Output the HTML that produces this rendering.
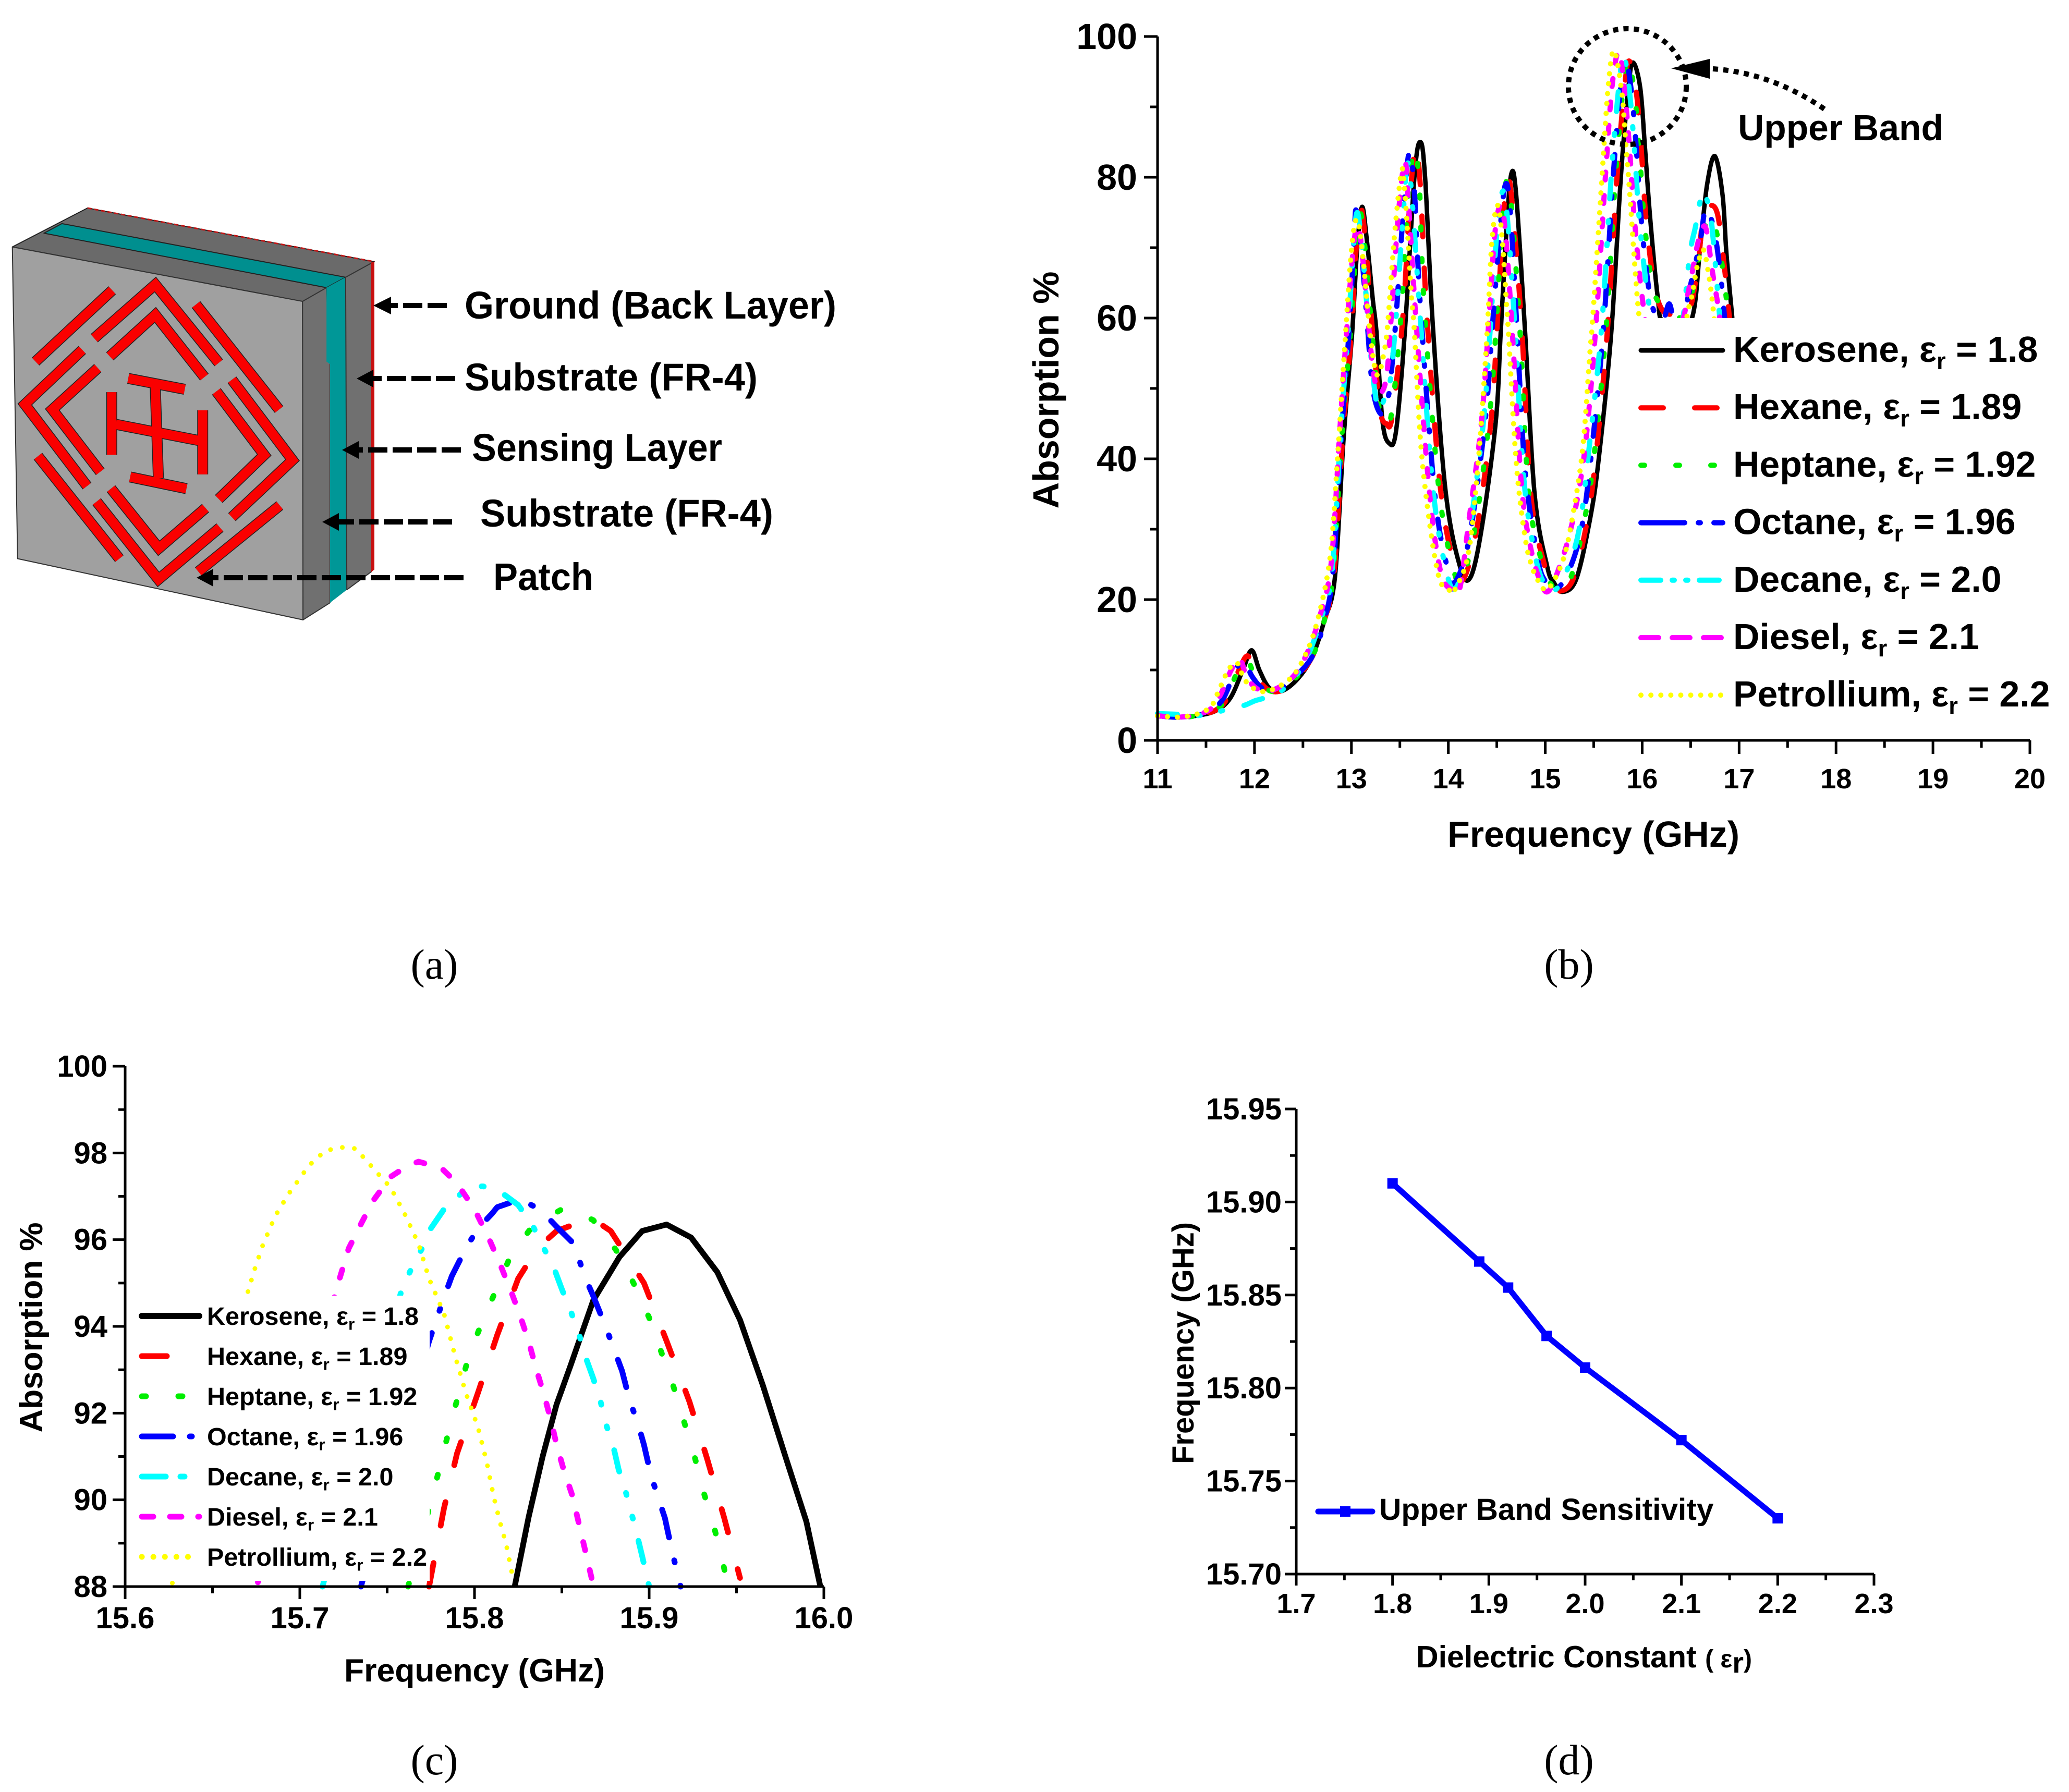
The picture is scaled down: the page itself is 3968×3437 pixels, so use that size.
<!DOCTYPE html>
<html lang="en">
<head>
<meta charset="utf-8">
<title>Absorber sensor figure</title>
<style>
html,body{margin:0;padding:0;background:#fff}
svg{display:block}
text{font-family:"Liberation Sans",Arial,sans-serif;font-weight:bold;fill:#000}
.cap{font-family:"Liberation Serif",serif;font-weight:normal;font-size:82px}
</style>
</head>
<body>
<svg id="fig" xmlns="http://www.w3.org/2000/svg" width="3968" height="3437" viewBox="0 0 3968 3437">
<rect width="3968" height="3437" fill="#fff"/>

<g id="panel-a">
  <g transform="translate(20,400) scale(0.4592,0.4974)" stroke-linejoin="round">
    <polygon points="8,148 322,-2 1520,205 1220,358" fill="#6a6a6a" stroke="#222" stroke-width="2" vector-effect="non-scaling-stroke"/>
    <polygon points="140,95 215,58 1400,265 1320,305" fill="#008f8f" stroke="#222" stroke-width="2" vector-effect="non-scaling-stroke"/>
    <polygon points="8,148 1220,358 1222,1586 30,1350" fill="#a0a0a0" stroke="#333" stroke-width="2" vector-effect="non-scaling-stroke"/>
    <polygon points="1220,358 1320,305 1335,600 1335,1520 1222,1586" fill="#707070" stroke="#333" stroke-width="2" vector-effect="non-scaling-stroke"/>
    <polygon points="1320,305 1400,265 1405,1470 1335,1520 1335,600 1320,590" fill="#009797"/>
    <polygon points="1400,265 1508,210 1508,1400 1405,1470" fill="#707070" stroke="#333" stroke-width="2" vector-effect="non-scaling-stroke"/>
    <polygon points="1506,208 1520,205 1520,1392 1506,1402" fill="#c81010"/>
    <line x1="322" y1="-2" x2="1520" y2="205" stroke="#c01818" stroke-width="3" stroke-dasharray="8 5" vector-effect="non-scaling-stroke"/>
    <defs>
      <g id="patch-shapes" fill="none" stroke-linejoin="miter" stroke-miterlimit="6">
        <polyline vector-effect="non-scaling-stroke" points="350,500 605,293 870,595"/>
        <polyline vector-effect="non-scaling-stroke" points="415,570 605,410 810,650"/>
        <polyline vector-effect="non-scaling-stroke" points="300,545 60,755 320,1070"/>
        <polyline vector-effect="non-scaling-stroke" points="365,615 175,775 375,1015"/>
        <polyline vector-effect="non-scaling-stroke" points="925,660 1178,970 925,1190"/>
        <polyline vector-effect="non-scaling-stroke" points="860,705 1060,950 870,1120"/>
        <polyline vector-effect="non-scaling-stroke" points="360,1130 618,1430 875,1230"/>
        <polyline vector-effect="non-scaling-stroke" points="420,1080 620,1310 815,1155"/>
        <line vector-effect="non-scaling-stroke" x1="105" y1="590" x2="425" y2="315"/>
        <line vector-effect="non-scaling-stroke" x1="775" y1="370" x2="1122" y2="775"/>
        <line vector-effect="non-scaling-stroke" x1="115" y1="955" x2="455" y2="1350"/>
        <line vector-effect="non-scaling-stroke" x1="1125" y1="1145" x2="785" y2="1400"/>
        <line vector-effect="non-scaling-stroke" x1="492" y1="655" x2="728" y2="697"/>
        <line vector-effect="non-scaling-stroke" x1="605" y1="690" x2="618" y2="1040"/>
        <line vector-effect="non-scaling-stroke" x1="423" y1="708" x2="423" y2="950"/>
        <line vector-effect="non-scaling-stroke" x1="803" y1="778" x2="803" y2="1025"/>
        <line vector-effect="non-scaling-stroke" x1="440" y1="832" x2="790" y2="895"/>
        <line vector-effect="non-scaling-stroke" x1="500" y1="1035" x2="735" y2="1080"/>
      </g>
    </defs>
    <use href="#patch-shapes" stroke="#222" stroke-width="21"/>
    <use href="#patch-shapes" stroke="#fa0000" stroke-width="18"/>
  </g>
  <g stroke="#000" stroke-width="10" stroke-dasharray="37 10" fill="#000">
    <line x1="857" y1="586" x2="750" y2="586"/>
    <polygon stroke="none" points="716,586 750,569 750,603"/>
    <line x1="873" y1="726" x2="716" y2="726"/>
    <polygon stroke="none" points="684,726 716,709 716,743"/>
    <line x1="884" y1="863" x2="688" y2="863"/>
    <polygon stroke="none" points="656,863 688,846 688,880"/>
    <line x1="867" y1="1001" x2="650" y2="1001"/>
    <polygon stroke="none" points="618,1001 650,984 650,1018"/>
    <line x1="889" y1="1108" x2="409" y2="1108"/>
    <polygon stroke="none" points="377,1108 409,1091 409,1125"/>
  </g>
  <text x="891" y="611" font-size="74" textLength="713" lengthAdjust="spacingAndGlyphs">Ground (Back Layer)</text>
  <text x="891" y="749" font-size="74" textLength="562" lengthAdjust="spacingAndGlyphs">Substrate (FR-4)</text>
  <text x="905" y="884" font-size="74" textLength="480" lengthAdjust="spacingAndGlyphs">Sensing Layer</text>
  <text x="921" y="1010" font-size="74" textLength="562" lengthAdjust="spacingAndGlyphs">Substrate (FR-4)</text>
  <text x="946" y="1132" font-size="74" textLength="192" lengthAdjust="spacingAndGlyphs">Patch</text>
</g>

<g id="panel-b"></g>
<g id="panel-c"></g>
<g id="panel-d"></g>

<text class="cap" x="833" y="1877" text-anchor="middle">(a)</text>
<text class="cap" x="3009" y="1877" text-anchor="middle">(b)</text>
<text class="cap" x="833" y="3403" text-anchor="middle">(c)</text>
<text class="cap" x="3009" y="3403" text-anchor="middle">(d)</text>
</svg>

<script>
// ---------- shared series identity ----------
const seriesKeys = ['kerosene','hexane','heptane','octane','decane','diesel','petrollium'];
const seriesNames = ['Kerosene','Hexane','Heptane','Octane','Decane','Diesel','Petrollium'];
const seriesEps = ['1.8','1.89','1.92','1.96','2.0','2.1','2.2'];
const seriesColors = ['#000000','#ff0000','#00ee00','#0000ff','#00ffff','#ff00ff','#ffff00'];

// ---------- panel (b) data: frequency (GHz) and absorption (%) ----------
const bXTicks = [11,12,13,14,15,16,17,18,19,20];
const bXMinor = [11.5,12.5,13.5,14.5,15.5,16.5,17.5,18.5,19.5];
const bYTicks = [0,20,40,60,80,100];
const bYMinor = [10,30,50,70,90];
const keroseneFreq = [11,11.2,11.4,11.6,11.75,11.88,11.97,12.05,12.15,12.28,12.45,12.6,12.72,12.83,12.92,13.007,13.06,13.11,13.16,13.22,13.26,13.32,13.39,13.46,13.55,13.65,13.71,13.76,13.84,13.97,14.12,14.23,14.35,14.49,14.54,14.6,14.65,14.7,14.79,14.89,15.02,15.09,15.18,15.32,15.46,15.55,15.68,15.78,15.86,15.906,15.98,16.03,16.08,16.16,16.22,16.5,16.6,16.67,16.75,16.83,16.87,16.93];
const keroseneAbs = [3.6,3.3,3.5,4.2,6,10,12.8,10,7.5,7,8.8,12,17,23.2,43,57.8,70,75.8,71,62.7,57.8,45.4,42.2,43.9,57.8,80,85,80,59,35.6,24.7,23.2,30.6,45.4,57.8,72.6,80.5,77.5,58.5,35,24.7,22.4,21.1,22.9,31.3,39.8,57.8,80,93,96.3,92.7,84,74.6,63,59.5,59.5,70.4,79,83,77.4,69,60];
const hexaneFreq = [11,11.2,11.4,11.6,11.72,11.84,11.93,12.01,12.12,12.26,12.43,12.6,12.72,12.82,12.91,13,13.05,13.1,13.15,13.2,13.25,13.3,13.36,13.42,13.53,13.6,13.66,13.71,13.78,13.92,14.06,14.16,14.3,14.44,14.5,14.56,14.61,14.66,14.76,14.85,14.99,15.07,15.15,15.29,15.43,15.52,15.64,15.74,15.82,15.868,15.94,15.99,16.04,16.12,16.2,16.3,16.47,16.57,16.63,16.7,16.78,16.85,16.9];
const hexaneAbs = [3.5,3.3,3.5,4.3,6,10,12,9.5,7.4,7,8.8,12,17,23.5,43,58,70,75.5,70,61,53,46.5,45,46,60,76,84.3,79,60,35.6,25,23,30.6,45.4,58,73,79.8,76,58,35,25,22.4,21.2,23,31,40,58,80,93,96.5,92,84,74,65,61.3,60.5,60.5,67,74.6,76,74.6,67,60];
const heptaneFreq = [11,11.2,11.4,11.6,11.71,11.83,11.92,12,12.11,12.25,12.42,12.6,12.72,12.81,12.9,12.99,13.05,13.09,13.14,13.2,13.25,13.3,13.36,13.42,13.51,13.58,13.645,13.7,13.75,13.9,14.05,14.14,14.28,14.42,14.49,14.55,14.6,14.65,14.74,14.83,14.97,15.05,15.13,15.26,15.4,15.5,15.625,15.725,15.805,15.854,15.92,15.97,16.02,16.1,16.18,16.3,16.45,16.55,16.63,16.7,16.77,16.84,16.89];
const heptaneAbs = [3.5,3.3,3.5,4.4,6,10,11.5,9.3,7.4,7,8.8,12,17,23.5,43,58,70,75,70,60,52,46,45,47,60,76,84,79,62,36,24.5,22.8,30.6,45.4,58,73,79.5,76,58,35,25,22.4,21.3,23,31,40,58,80,93,96.8,92,84,74,65,62,60.5,60.5,66,72,74.5,72,66,60];
const octaneFreq = [11,11.2,11.4,11.55,11.68,11.8,11.89,11.97,12.08,12.22,12.4,12.6,12.72,12.81,12.9,12.98,13.03,13.05,13.1,13.16,13.22,13.31,13.38,13.41,13.46,13.54,13.6,13.65,13.71,13.86,14,14.08,14.22,14.38,14.45,14.53,14.59,14.64,14.71,14.79,14.92,15,15.1,15.24,15.37,15.47,15.6,15.7,15.78,15.828,15.89,15.94,15.99,16.07,16.15,16.22,16.28,16.34,16.42,16.52,16.6,16.65,16.7,16.75,16.81,16.85];
const octaneAbs = [3.5,3.3,3.5,4.2,6,9.8,11.5,9.2,7.4,7,8.8,12,17,24,44,59,72,75.3,70,60,50,46.3,48.8,52,60,76,83.7,78,62,35,24,22.7,29,45.4,58,72,79,75,58,38.7,26,22.6,21.3,24,29.8,40,58.5,80,93,96.95,92,84,74,64,60,59.8,62,59,60,66,71,75.5,74.5,72,66,60];
const decaneFreq = [11,11.2,11.4,11.6,11.75,11.9,12,12.1,12.2,12.32,12.42,12.55,12.68,12.8,12.89,12.97,13.02,13.06,13.11,13.17,13.22,13.28,13.35,13.4,13.46,13.53,13.58,13.63,13.71,13.84,13.98,14.08,14.2,14.36,14.43,14.5,14.56,14.61,14.69,14.78,14.9,15,15.09,15.22,15.35,15.44,15.58,15.68,15.76,15.811,15.87,15.92,15.97,16.05,16.13,16.35,16.42,16.49,16.55,16.62,16.67,16.72,16.8];
const decaneAbs = [3.8,3.7,3.5,4,4.5,5,5.6,6,6.5,7.5,9,12,17,24,44,59,70,75,70,60,52,47,49,51,60,74,82,76,60,36,24,21.7,28,45,58,72,78,74,58,37,26,22,21.2,24,30,40,58.5,80,93,97.25,92,84,74,64,59,59,60,69,73,77.8,76.7,73,60];
const dieselFreq = [11,11.2,11.4,11.55,11.65,11.76,11.85,11.92,12.02,12.16,12.38,12.53,12.66,12.79,12.88,12.95,13.02,13.07,13.12,13.17,13.23,13.29,13.36,13.41,13.48,13.55,13.59,13.67,13.8,13.92,14.05,14.12,14.21,14.34,14.42,14.48,14.54,14.59,14.66,14.75,14.84,14.95,15.04,15.18,15.28,15.36,15.43,15.52,15.62,15.69,15.76,15.82,15.87,15.92,16,16.07,16.38,16.48,16.57,16.63,16.67,16.72,16.78,16.81];
const dieselAbs = [3.5,3.3,3.6,4.5,6.5,10,11.5,9,7.4,7,8.8,12,17,25,44,58,70,73,68,60,52,49.4,51.5,60,74,82.2,76,59,36,24,21.3,21.7,31,45,60,72,76,72,58,37,28,22.5,21.3,26,31,36.6,44,58.5,80,93,97.8,92,84,74,63,59,59,64,70.4,73,72,67,62,59];
const petrolliumFreq = [11,11.2,11.4,11.55,11.63,11.73,11.82,11.89,11.99,12.14,12.37,12.52,12.65,12.78,12.85,12.92,13,13.06,13.12,13.18,13.24,13.28,13.32,13.37,13.45,13.52,13.55,13.58,13.62,13.65,13.73,13.89,14.03,14.07,14.21,14.32,14.4,14.45,14.51,14.56,14.6,14.62,14.7,14.79,14.86,14.94,15.03,15.19,15.3,15.39,15.46,15.49,15.58,15.65,15.71,15.79,15.83,15.87,15.97,16.05,16.4,16.49,16.53,16.57,16.63,16.68,16.72,16.75];
const petrolliumAbs = [3.5,3.3,3.7,4.8,7,10,11,8.8,7.4,7,8.8,12,17,26,38.7,53.6,69.6,74,68.4,59.5,53,52,54,58.5,72.6,81,78,72,63,58,39.8,23.9,21.2,21.5,26.8,41.5,58,71,76,70.4,62,58,39.5,29,24.8,22.4,21.5,25.9,33.2,42,55,60,79,93,98,92,85,78,60,59,59,62,64.5,67.5,69.7,66.7,62.8,58.8];

// ---------- panel (c) data ----------
const cXTicks = ['15.6','15.7','15.8','15.9','16.0'];
const cXMinor = [15.65,15.75,15.85,15.95];
const cYTicks = [88,90,92,94,96,98,100];
const cYMinor = [89,91,93,95,97,99];
const zoomKeroseneFreq = [15.823,15.831,15.839,15.847,15.855,15.868,15.883,15.896,15.91,15.924,15.939,15.952,15.965,15.978,15.99,15.998];
const zoomKeroseneAbs = [88,89.6,91,92.2,93.1,94.6,95.6,96.2,96.35,96.05,95.25,94.15,92.65,91,89.5,88];
const zoomHexaneFreq = [15.774,15.7825,15.79,15.802,15.813,15.825,15.836,15.847,15.867,15.878,15.897,15.91,15.923,15.933,15.943,15.952];
const zoomHexaneAbs = [88,89.8,91.07,92.47,93.8,95.1,95.8,96.2,96.5,96.2,95,93.66,92.27,90.97,89.58,88.2];
const zoomHeptaneFreq = [15.762,15.776,15.786,15.797,15.805,15.813,15.821,15.833,15.852,15.868,15.881,15.891,15.9,15.907,15.914,15.92,15.926,15.931,15.937,15.942,15.945];
const zoomHeptaneAbs = [88,90.1,91.7,93.36,94.16,94.9,95.66,96.3,96.75,96.45,95.76,95,94.2,93.4,92.6,91.8,91,90.2,89.4,88.6,88];
const zoomOctaneFreq = [15.735,15.774,15.7825,15.787,15.795,15.802,15.81,15.813,15.826,15.8375,15.847,15.857,15.863,15.868,15.875,15.88,15.8845,15.889,15.8935,15.897,15.901,15.905,15.909,15.913,15.916,15.918];
const zoomOctaneAbs = [88,93.66,94.66,95.16,95.8,96.26,96.6,96.75,96.93,96.7,96.3,95.9,95.16,94.7,94,93.46,92.97,92.27,91.77,91.27,90.57,90.07,89.58,88.83,88.33,88];
const zoomDecaneFreq = [15.713,15.758,15.763,15.77,15.774,15.7825,15.792,15.799,15.805,15.815,15.825,15.833,15.839,15.845,15.85,15.855,15.86,15.863,15.868,15.872,15.875,15.879,15.8825,15.886,15.89,15.893,15.896,15.9];
const zoomDecaneAbs = [88,94.8,95.26,95.8,96.2,96.7,97.05,97.23,97.23,97.1,96.8,96.35,95.85,95.4,94.86,94.36,93.8,93.36,92.8,92.3,91.77,91.32,90.7,90.27,89.67,89.2,88.7,88];
const zoomDieselFreq = [15.676,15.722,15.728,15.7355,15.742,15.752,15.7615,15.768,15.781,15.79,15.8,15.808,15.8145,15.821,15.826,15.831,15.835,15.84,15.844,15.847,15.851,15.856,15.8595,15.863,15.867];
const zoomDieselAbs = [88.1,95,95.8,96.4,96.9,97.45,97.7,97.8,97.65,97.3,96.7,96.05,95.45,94.8,94.26,93.66,93.06,92.4,91.8,91.27,90.7,90.1,89.5,88.9,88.2];
const zoomPetrolliumFreq = [15.627,15.67,15.674,15.679,15.686,15.6935,15.705,15.7145,15.7235,15.732,15.743,15.752,15.76,15.768,15.774,15.7825,15.789,15.795,15.802,15.807,15.811,15.8145,15.818,15.822];
const zoomPetrolliumAbs = [88.08,94.76,95.3,95.9,96.55,97.05,97.7,98.05,98.13,98.1,97.6,97.2,96.6,95.9,95.1,94.3,93.3,92.47,91.67,90.87,90.07,89.5,89,88.2];

// ---------- panel (d) data ----------
const dXTicks = ['1.7','1.8','1.9','2.0','2.1','2.2','2.3'];
const dXMinor = [1.75,1.85,1.95,2.05,2.15,2.25];
const dYTicks = ['15.70','15.75','15.80','15.85','15.90','15.95'];
const dYMinor = [15.725,15.775,15.825,15.875,15.925];
const dielectricConstants = [1.8,1.89,1.92,1.96,2.0,2.1,2.2];
const upperBandFreq = [15.91,15.868,15.854,15.828,15.811,15.772,15.73];

// ---------- axis functions ----------
const bX = f => 2220 + (f - 11) * (3893 - 2220) / 9;
const bY = a => 1420 - a * (1420 - 70) / 100;
const cX = f => 240 + (f - 15.6) * (1580 - 240) / 0.4;
const cY = a => 3043 - (a - 88) * (3043 - 2045) / 12;
const dX = e => 2486 + (e - 1.7) * (3594 - 2486) / 0.6;
const dY = f => 3019 - (f - 15.7) * (3019 - 2127) / 0.25;

const NS = 'http://www.w3.org/2000/svg';
function mk(parent, tag, attrs) {
  const el = document.createElementNS(NS, tag);
  for (const k in attrs) el.setAttribute(k, attrs[k]);
  parent.appendChild(el);
  return el;
}
function smoothPath(xs, ys) {
  let d = 'M' + xs[0].toFixed(1) + ' ' + ys[0].toFixed(1);
  for (let i = 0; i < xs.length - 1; i++) {
    const i0 = Math.max(0, i - 1), i3 = Math.min(xs.length - 1, i + 2);
    const c1x = xs[i] + (xs[i + 1] - xs[i0]) / 6, c1y = ys[i] + (ys[i + 1] - ys[i0]) / 6;
    const c2x = xs[i + 1] - (xs[i3] - xs[i]) / 6, c2y = ys[i + 1] - (ys[i3] - ys[i]) / 6;
    d += 'C' + c1x.toFixed(1) + ' ' + c1y.toFixed(1) + ' ' + c2x.toFixed(1) + ' ' + c2y.toFixed(1) + ' ' + xs[i + 1].toFixed(1) + ' ' + ys[i + 1].toFixed(1);
  }
  return d;
}
function linePath(xs, ys) {
  return xs.map((x, i) => (i ? 'L' : 'M') + x.toFixed(1) + ' ' + ys[i].toFixed(1)).join('');
}
function tick(g, x1, y1, x2, y2, w) {
  const t = mk(g, 'line', {x1, y1, x2, y2, stroke: '#000', 'stroke-width': w});
  
  
}
function label(g, str, x, y, size, anchor) {
  const t = mk(g, 'text', {x, y, 'font-size': size, 'text-anchor': anchor});
  t.textContent = str;
  
  
}
function drawAxes(g, p) {
  const ax = mk(g, 'g', {});
  
  
  const x0 = p.x(p.xMin), x1 = p.x(p.xMax), y0 = p.y(p.yMin), y1 = p.y(p.yMax);
  const yl = mk(ax, 'line', {x1: x0, y1: y0 + p.w / 2, x2: x0, y2: y1, stroke: '#000', 'stroke-width': p.w});
  
  
  const xl = mk(ax, 'line', {x1: x0, y1: y0, x2: x1, y2: y0, stroke: '#000', 'stroke-width': p.w});
  
  
  p.xTicks.forEach(v => {
    const X = p.x(Number(v));
    tick(ax, X, y0, X, y0 + p.major, p.w);
    label(ax, String(v), X, p.xLabelY, p.xFont, 'middle');
  });
  p.xMinor.forEach(v => tick(ax, p.x(v), y0, p.x(v), y0 + p.minor, p.w));
  p.yTicks.forEach(v => {
    const Y = p.y(Number(v));
    tick(ax, x0, Y, x0 - p.major, Y, p.w);
    label(ax, String(v), p.yLabelX, Y + p.yLabelDy, p.yFont, 'end');
  });
  p.yMinor.forEach(v => tick(ax, x0, p.y(v), x0 - p.minor, p.y(v), p.w));
}
function title(g, name, str, x, y, size, rotated) {
  const t = mk(g, 'text', {x, y, 'font-size': size, 'text-anchor': 'middle'});
  if (rotated) t.setAttribute('transform', 'rotate(-90 ' + x + ' ' + y + ')');
  t.textContent = str;
  
  
}
function legendRow(g, name, eps, color, dash, width, lx0, lx1, tx, y, baseOff, size) {
  const row = mk(g, 'g', {});
  
  
  const l = mk(row, 'line', {x1: lx0, y1: y, x2: lx1, y2: y, stroke: color, 'stroke-width': width, 'stroke-linecap': 'round'});
  if (dash) l.setAttribute('stroke-dasharray', dash);
  const t = mk(row, 'text', {x: tx, y: y + baseOff, 'font-size': size});
  t.appendChild(document.createTextNode(name + ', \u03B5'));
  const sub = mk(t, 'tspan', {dy: size * 0.2, 'font-size': size * 0.65});
  sub.textContent = 'r';
  const rest = mk(t, 'tspan', {dy: -size * 0.2});
  rest.textContent = ' = ' + eps;
}

// ---------- panel (b) ----------
const gB = document.getElementById('panel-b');
const bFreq = [keroseneFreq, hexaneFreq, heptaneFreq, octaneFreq, decaneFreq, dieselFreq, petrolliumFreq];
const bAbs = [keroseneAbs, hexaneAbs, heptaneAbs, octaneAbs, decaneAbs, dieselAbs, petrolliumAbs];
const bDash = ['', '40 60', '6 55', '38 42 4 42', '38 40 4 40 4 42', '15 30', '0.1 19'];
bFreq.forEach((fr, i) => {
  const d = smoothPath(fr.map(bX), bAbs[i].map(bY));
  const p = mk(gB, 'path', {d, fill: 'none', stroke: seriesColors[i], 'stroke-width': i === 0 ? 8.5 : 10, 'stroke-linecap': i === 0 ? 'butt' : 'round', 'stroke-linejoin': 'round'});
  if (bDash[i]) p.setAttribute('stroke-dasharray', bDash[i]);
  
  
});
const bMask = mk(gB, 'rect', {x: 3130, y: bY(60), width: 838, height: 1400 - bY(60), fill: '#fff'});


drawAxes(gB, {x: bX, y: bY, xMin: 11, xMax: 20, yMin: 0, yMax: 100, w: 5, major: 26, minor: 14,
  xTicks: bXTicks, xMinor: bXMinor, yTicks: bYTicks, yMinor: bYMinor,
  xLabelY: 1512, xFont: 54, yLabelX: 2181, yLabelDy: 24, yFont: 70});
title(gB, 'y-axis-title', 'Absorption %', 2030, 748, 70, true);
title(gB, 'x-axis-title', 'Frequency (GHz)', 3056, 1624, 70, false);
const bLegend = mk(gB, 'g', {});


const bLegendDash = ['', '43 60', '7 60', '84 26 4 26', '38 22 4 22 4 22', '34 26', '0.1 19'];
seriesNames.forEach((n, i) => {
  legendRow(bLegend, n, seriesEps[i], seriesColors[i], bLegendDash[i], i === 0 ? 9 : 10, 3147, 3304, 3324, 672 + i * 110.2, 22, 69.8);
});
const ann = mk(gB, 'g', {});


const circ = mk(ann, 'ellipse', {cx: 3121, cy: 166, rx: 113, ry: 111, fill: 'none', stroke: '#000', 'stroke-width': 10, 'stroke-dasharray': '10 10'});


const aCurve = mk(ann, 'path', {d: 'M3285 132Q3400 140 3503 212', fill: 'none', stroke: '#000', 'stroke-width': 10, 'stroke-dasharray': '10 10'});


const aHead = mk(ann, 'polygon', {points: '3205,131 3279,113 3279,151', fill: '#000'});


title(ann, 'upper-band-label', 'Upper Band', 3530, 269, 69.5, false);

// ---------- panel (c) ----------
const gC = document.getElementById('panel-c');
const cFreq = [zoomKeroseneFreq, zoomHexaneFreq, zoomHeptaneFreq, zoomOctaneFreq, zoomDecaneFreq, zoomDieselFreq, zoomPetrolliumFreq];
const cAbs = [zoomKeroseneAbs, zoomHexaneAbs, zoomHeptaneAbs, zoomOctaneAbs, zoomDecaneAbs, zoomDieselAbs, zoomPetrolliumAbs];
const cDash = ['', '46 73', '6 66', '55 45 4 46', '42 43 4 43 4 44', '16 39', '0.1 23'];
cFreq.forEach((fr, i) => {
  const d = linePath(fr.map(cX), cAbs[i].map(cY));
  const p = mk(gC, 'path', {d, fill: 'none', stroke: seriesColors[i], 'stroke-width': i === 0 ? 11 : (i === 6 ? 9 : 11), 'stroke-linecap': i === 0 ? 'butt' : 'round', 'stroke-linejoin': 'round'});
  if (cDash[i]) p.setAttribute('stroke-dasharray', cDash[i]);
  
  
});
const cMask = mk(gC, 'rect', {x: 245, y: 2485, width: 579, height: 547, fill: '#fff'});


drawAxes(gC, {x: cX, y: cY, xMin: 15.6, xMax: 16.0, yMin: 88, yMax: 100, w: 5, major: 24, minor: 13,
  xTicks: cXTicks, xMinor: cXMinor, yTicks: cYTicks, yMinor: cYMinor,
  xLabelY: 3123, xFont: 58, yLabelX: 206, yLabelDy: 20, yFont: 58});
title(gC, 'y-axis-title', 'Absorption %', 81, 2546, 62, true);
title(gC, 'x-axis-title', 'Frequency (GHz)', 910, 3225, 62.5, false);
const cLegend = mk(gC, 'g', {});


const cLegendDash = ['', '48 200', '8 62', '60 32 4 200', '46 28 8 200', '22 32', '0.1 22'];
seriesNames.forEach((n, i) => {
  legendRow(cLegend, n, seriesEps[i], seriesColors[i], cLegendDash[i], i === 0 ? 12 : 11, 272, 382, 397, 2524 + i * 77, 17, 48.5);
});

// ---------- panel (d) ----------
const gD = document.getElementById('panel-d');
const dLine = mk(gD, 'path', {d: linePath(dielectricConstants.map(dX), upperBandFreq.map(dY)), fill: 'none', stroke: '#0000ff', 'stroke-width': 11, 'stroke-linejoin': 'round'});


dielectricConstants.forEach((e, i) => {
  const r = mk(gD, 'rect', {x: dX(e) - 10, y: dY(upperBandFreq[i]) - 10, width: 20, height: 20, fill: '#0000ff'});
  
  
});
drawAxes(gD, {x: dX, y: dY, xMin: 1.7, xMax: 2.3, yMin: 15.7, yMax: 15.95, w: 5, major: 22, minor: 12,
  xTicks: dXTicks, xMinor: dXMinor, yTicks: dYTicks, yMinor: dYMinor,
  xLabelY: 3094, xFont: 54, yLabelX: 2458, yLabelDy: 20, yFont: 58});
title(gD, 'y-axis-title', 'Frequency (GHz)', 2289, 2576, 58, true);
const dX_title = mk(gD, 'text', {x: 2716, y: 3198, 'font-size': 59});


dX_title.appendChild(document.createTextNode('Dielectric Constant '));
const dXp = mk(dX_title, 'tspan', {'font-size': 48});
dXp.textContent = '( \u03B5';
const dXr = mk(dX_title, 'tspan', {'font-size': 56, dy: 10});
dXr.textContent = 'r';
const dXc = mk(dX_title, 'tspan', {'font-size': 48, dy: -10});
dXc.textContent = ')';
const dLeg = mk(gD, 'g', {});


const dLegLine = mk(dLeg, 'line', {x1: 2528, y1: 2899, x2: 2632, y2: 2899, stroke: '#0000ff', 'stroke-width': 11, 'stroke-linecap': 'round'});


const dLegMark = mk(dLeg, 'rect', {x: 2570, y: 2889, width: 20, height: 20, fill: '#0000ff'});


const dLegText = mk(dLeg, 'text', {x: 2645, y: 2915, 'font-size': 58.6});
dLegText.textContent = 'Upper Band Sensitivity';


</script>
</body>
</html>
